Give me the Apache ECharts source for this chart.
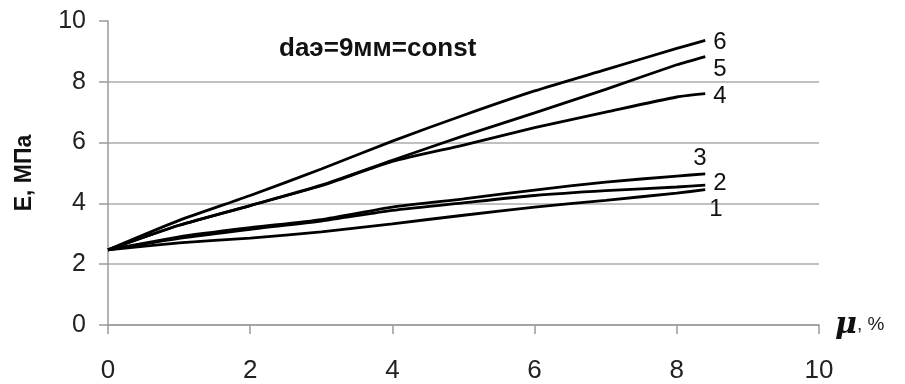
<!DOCTYPE html>
<html>
<head>
<meta charset="utf-8">
<script src="https://cdn.jsdelivr.net/npm/echarts@6/dist/echarts.min.js"></script>
<style>
  html, body { margin: 0; padding: 0; background: #fff; }
  #chart { width: 905px; height: 384px; }
</style>
</head>
<body>
<div id="chart"></div>
<script>
// strain, %
const mu = [0, 1, 2, 3, 4, 5, 6, 7, 8, 8.4]
// modulus E, MPa for curves 1..6
const curve1 = [2.47, 2.7, 2.86, 3.06, 3.33, 3.61, 3.88, 4.1, 4.34, 4.45]
const curve2 = [2.47, 2.85, 3.15, 3.42, 3.77, 4.02, 4.26, 4.42, 4.54, 4.6]
const curve3 = [2.47, 2.9, 3.2, 3.47, 3.88, 4.15, 4.44, 4.7, 4.9, 4.97]
const curve4 = [2.47, 3.28, 3.93, 4.58, 5.38, 5.92, 6.49, 7.0, 7.5, 7.61]
const curve5 = [2.47, 3.28, 3.93, 4.6, 5.42, 6.22, 6.98, 7.75, 8.56, 8.83]
const curve6 = [2.47, 3.44, 4.26, 5.13, 6.05, 6.9, 7.7, 8.4, 9.1, 9.36]
const curveNames = ['1', '2', '3', '4', '5', '6']
const labelOffsets = [[-4, 20], [0, -2], [-20, -16], [0, 3], [0, 13], [0, 2]]

const curves = [curve1, curve2, curve3, curve4, curve5, curve6]

const chart = echarts.init(document.getElementById('chart'))
const axisFont = 'Liberation Sans, Arial, sans-serif'

const option = {
  animation: false,
  title: {
    text: 'daэ=9мм=const',
    left: 274,
    top: 31,
    textStyle: { fontFamily: axisFont, fontSize: 26, fontWeight: 'bold', color: '#111' }
  },
  grid: { left: 108, right: 86, top: 21, bottom: 57 },
  xAxis: {
    type: 'value',
    min: 0,
    max: 10,
    interval: 2,
    name: '{mu|μ}{pc|, %}',
    nameLocation: 'end',
    nameGap: 16,
    nameTextStyle: {
      rich: {
        mu: { fontFamily: 'DejaVu Serif, serif', fontSize: 30, fontWeight: 'bold', fontStyle: 'italic', color: '#111' },
        pc: { fontFamily: axisFont, fontSize: 19, color: '#222' }
      }
    },
    axisLine: { lineStyle: { color: '#9a9a9a', width: 1.5 } },
    axisTick: { show: true, inside: false, length: 9, lineStyle: { color: '#9a9a9a', width: 1.5 } },
    axisLabel: { fontFamily: axisFont, fontSize: 26, color: '#222', margin: 33 },
    splitLine: { show: false }
  },
  yAxis: {
    type: 'value',
    min: 0,
    max: 10,
    interval: 2,
    name: 'E, МПа',
    nameLocation: 'middle',
    nameGap: 72,
    nameTextStyle: { fontFamily: axisFont, fontSize: 23, fontWeight: 'bold', color: '#111' },
    axisLine: { show: true, lineStyle: { color: '#9a9a9a', width: 1.5 } },
    axisTick: { show: true, inside: false, length: 9, lineStyle: { color: '#9a9a9a', width: 1.5 } },
    axisLabel: { fontFamily: axisFont, fontSize: 25, color: '#222', margin: 22 },
    splitLine: {
      show: true,
      lineStyle: { color: ['#ababab', '#ababab', '#ababab', '#ababab', '#ababab', 'rgba(0,0,0,0)'], width: 1.5 }
    }
  },
  series: curves.map((c, i) => ({
    name: curveNames[i],
    type: 'line',
    data: mu.map((x, j) => [x, c[j]]),
    smooth: 0.2,
    symbol: 'none',
    lineStyle: { color: '#000', width: 2.8 },
    endLabel: {
      show: true,
      formatter: '{a}',
      offset: labelOffsets[i],
      fontFamily: axisFont,
      fontSize: 24,
      color: '#111'
    }
  }))
}
chart.setOption(option)
</script>
</body>
</html>
